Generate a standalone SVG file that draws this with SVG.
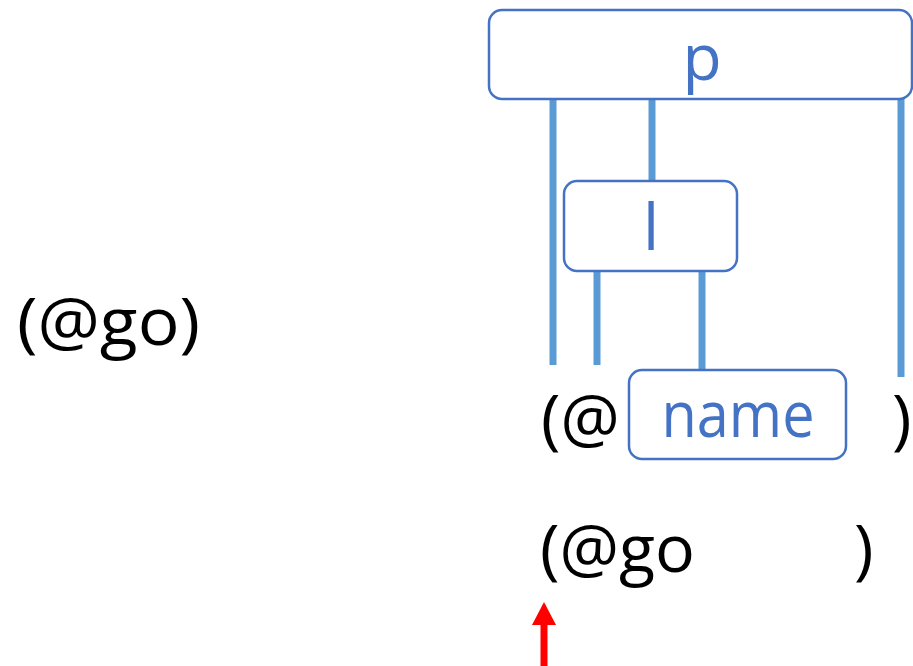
<svg xmlns="http://www.w3.org/2000/svg" width="913" height="666" viewBox="0 0 913 666">
<style>
.box{fill:#fff;stroke:#4472C4;stroke-width:2.5}
.bt{font-family:"Open Sans","Liberation Sans",sans-serif;font-size:64px;fill:#4472C4;text-anchor:middle}
.k{font-family:"Open Sans","Liberation Sans",sans-serif;font-size:66px;fill:#000}
.ln{stroke:#5B9BD5;stroke-width:7;fill:none}
</style>
<rect width="913" height="666" fill="#fff"/>
<g id="connectors">
<line class="ln" x1="553" y1="99" x2="553" y2="365"/>
<line class="ln" x1="652" y1="99" x2="652" y2="181"/>
<line class="ln" x1="901" y1="99" x2="901" y2="377"/>
<line class="ln" x1="597" y1="271" x2="597" y2="365"/>
<line class="ln" x1="702" y1="271" x2="702" y2="373"/>
</g>
<g id="node-p">
<rect class="box" x="489" y="10" width="423" height="89" rx="13"/>
<text class="bt" x="702" y="80">p</text>
</g>
<g id="node-l">
<rect class="box" x="564" y="181" width="173" height="90" rx="13"/>
<text class="bt" x="651" y="250">l</text>
</g>
<g id="node-name">
<rect class="box" x="629" y="370" width="217" height="89" rx="13"/>
<text class="bt" x="738" y="437" textLength="153" lengthAdjust="spacingAndGlyphs">name</text>
</g>
<g id="texts">
<text class="k" x="17" y="345" textLength="183" lengthAdjust="spacingAndGlyphs">(@go)</text>
<text class="k" x="541" y="442">(@</text>
<text class="k" x="892" y="442">)</text>
<text class="k" x="540" y="572" textLength="155" lengthAdjust="spacingAndGlyphs">(@go</text>
<text class="k" x="854" y="572">)</text>
</g>
<g id="pointer">
<line x1="544" y1="620" x2="544" y2="666" stroke="#FF0000" stroke-width="7"/>
<polygon points="544,602 556,625 532,625" fill="#FF0000"/>
</g>
</svg>
